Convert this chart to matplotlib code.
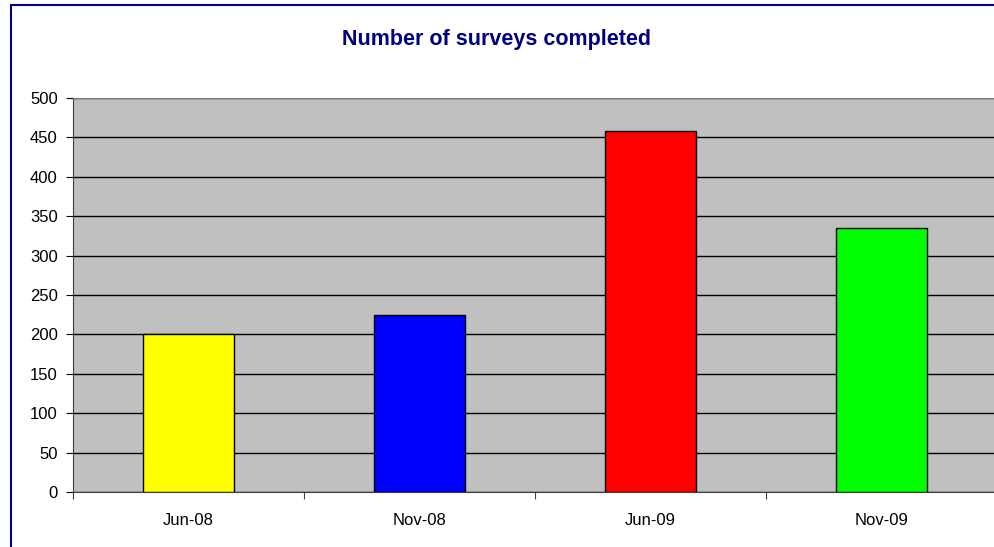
import numpy as np
import matplotlib
matplotlib.use("Agg")
from matplotlib import pyplot as plt
from matplotlib.patches import Rectangle

plt.rcParams['font.family'] = ['Liberation Sans', 'DejaVu Sans']

periods = ['Jun-08', 'Nov-08', 'Jun-09', 'Nov-09']
surveys = [200, 225, 458, 335]
bar_colors = ['#ffff00', '#0000ff', '#ff0000', '#00ff00']

fig = plt.figure(figsize=(9.94, 5.47), dpi=100)
ax = fig.add_axes([73/994, 55/547, 924/994, 394/547])
ax.set_facecolor('#c0c0c0')

x = np.arange(len(periods))
ax.bar(x, surveys, width=0.39, color=bar_colors, edgecolor='black',
       linewidth=1.0, zorder=3)

ax.set_xlim(-0.5, len(periods) - 0.5)
ax.set_ylim(0, 500)
ax.set_yticks(np.arange(0, 501, 50))
ax.yaxis.grid(True, color='black', linewidth=1.0, zorder=1)
ax.set_axisbelow(True)

# category boundaries carry the ticks, labels sit in between
ax.set_xticks(np.arange(-0.5, len(periods), 1.0))
ax.set_xticklabels([])
ax.set_xticks(x, minor=True)
ax.set_xticklabels(periods, minor=True)
ax.tick_params(axis='x', which='minor', length=0, pad=15, labelsize=12)
ax.tick_params(axis='x', which='major', length=5, color='#404040')
ax.tick_params(axis='y', length=5, labelsize=12, pad=6)

ax.spines['top'].set_color('#808080')
ax.spines['right'].set_color('#808080')
ax.spines['left'].set_color('#404040')
ax.spines['bottom'].set_color('#404040')

fig.text(0.5, 1 - 40/547, 'Number of surveys completed', ha='center',
         va='center', fontsize=15.5, fontweight='bold', color='#000080')

fig.patches.append(Rectangle((11/994, -0.1), 1.2, 1 - 5/547 + 0.1,
                             transform=fig.transFigure, fill=False,
                             edgecolor='#000080', linewidth=1.5))

plt.savefig('out.png', dpi=100)
plt.close()
